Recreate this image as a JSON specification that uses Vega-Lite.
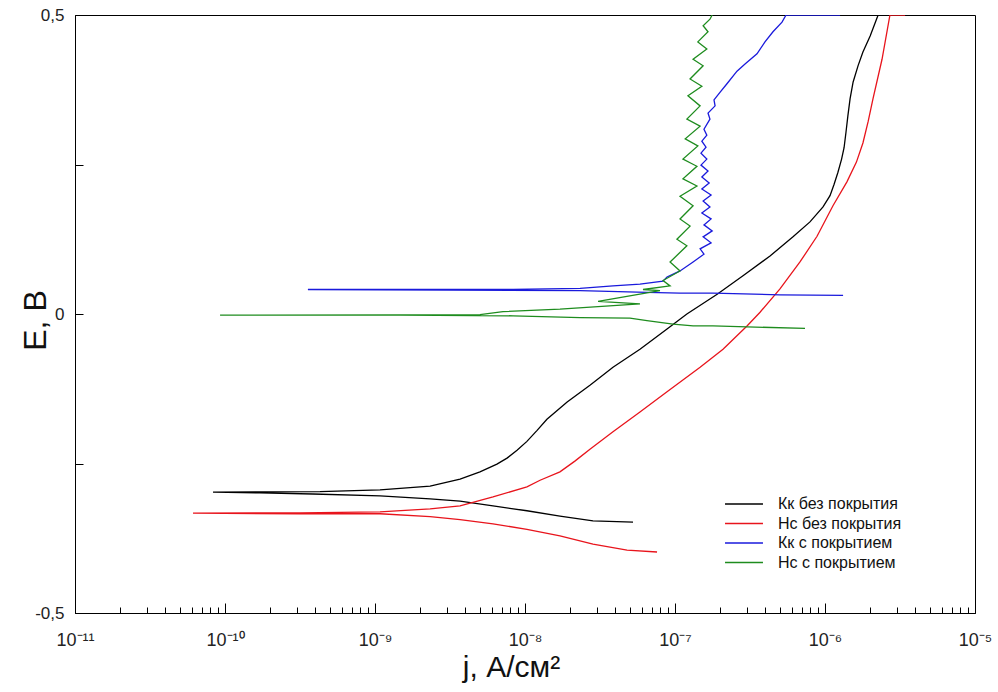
{
  "$schema": "https://vega.github.io/schema/vega-lite/v6.json",
  "width": 900,
  "height": 598,
  "autosize": {"type": "none"},
  "padding": {"left": 75, "top": 15, "right": 23, "bottom": 79},
  "background": "white",
  "config": {
    "font": "Liberation Sans",
    "view": {"stroke": "#000", "strokeWidth": 1},
    "axis": {"domainColor": "#000", "tickColor": "#000", "labelColor": "#222", "titleColor": "#111", "grid": false, "labelFont": "Liberation Sans", "titleFont": "Liberation Sans", "titleFontWeight": "normal"}
  },
  "datasets": {
    "curves": [
      {"s": "Кк без покрытия", "j": 5.25e-8, "E": -0.348},
      {"s": "Кк без покрытия", "j": 2.84e-8, "E": -0.346},
      {"s": "Кк без покрытия", "j": 1.71e-8, "E": -0.338},
      {"s": "Кк без покрытия", "j": 1.03e-8, "E": -0.329},
      {"s": "Кк без покрытия", "j": 6.12e-9, "E": -0.321},
      {"s": "Кк без покрытия", "j": 3.69e-9, "E": -0.313},
      {"s": "Кк без покрытия", "j": 2.33e-9, "E": -0.309},
      {"s": "Кк без покрытия", "j": 1.08e-9, "E": -0.304},
      {"s": "Кк без покрытия", "j": 3.86e-10, "E": -0.301},
      {"s": "Кк без покрытия", "j": 1.71e-10, "E": -0.299},
      {"s": "Кк без покрытия", "j": 8.32e-11, "E": -0.298},
      {"s": "Кк без покрытия", "j": 1.71e-10, "E": -0.2975},
      {"s": "Кк без покрытия", "j": 4.30e-10, "E": -0.297},
      {"s": "Кк без покрытия", "j": 1.08e-9, "E": -0.294},
      {"s": "Кк без покрытия", "j": 2.33e-9, "E": -0.288},
      {"s": "Кк без покрытия", "j": 3.69e-9, "E": -0.276},
      {"s": "Кк без покрытия", "j": 5.01e-9, "E": -0.264},
      {"s": "Кк без покрытия", "j": 6.50e-9, "E": -0.251},
      {"s": "Кк без покрытия", "j": 7.59e-9, "E": -0.241},
      {"s": "Кк без покрытия", "j": 8.85e-9, "E": -0.228},
      {"s": "Кк без покрытия", "j": 1.03e-8, "E": -0.213},
      {"s": "Кк без покрытия", "j": 1.20e-8, "E": -0.195},
      {"s": "Кк без покрытия", "j": 1.40e-8, "E": -0.176},
      {"s": "Кк без покрытия", "j": 1.91e-8, "E": -0.147},
      {"s": "Кк без покрытия", "j": 2.71e-8, "E": -0.119},
      {"s": "Кк без покрытия", "j": 3.86e-8, "E": -0.089},
      {"s": "Кк без покрытия", "j": 5.84e-8, "E": -0.059},
      {"s": "Кк без покрытия", "j": 8.85e-8, "E": -0.025},
      {"s": "Кк без покрытия", "j": 1.20e-7, "E": 0.000},
      {"s": "Кк без покрытия", "j": 1.91e-7, "E": 0.033},
      {"s": "Кк без покрытия", "j": 2.84e-7, "E": 0.064},
      {"s": "Кк без покрытия", "j": 4.30e-7, "E": 0.097},
      {"s": "Кк без покрытия", "j": 6.12e-7, "E": 0.129},
      {"s": "Кк без покрытия", "j": 7.94e-7, "E": 0.154},
      {"s": "Кк без покрытия", "j": 9.70e-7, "E": 0.179},
      {"s": "Кк без покрытия", "j": 1.08e-6, "E": 0.198},
      {"s": "Кк без покрытия", "j": 1.15e-6, "E": 0.217},
      {"s": "Кк без покрытия", "j": 1.22e-6, "E": 0.237},
      {"s": "Кк без покрытия", "j": 1.29e-6, "E": 0.259},
      {"s": "Кк без покрытия", "j": 1.34e-6, "E": 0.278},
      {"s": "Кк без покрытия", "j": 1.38e-6, "E": 0.304},
      {"s": "Кк без покрытия", "j": 1.42e-6, "E": 0.331},
      {"s": "Кк без покрытия", "j": 1.47e-6, "E": 0.360},
      {"s": "Кк без покрытия", "j": 1.54e-6, "E": 0.388},
      {"s": "Кк без покрытия", "j": 1.66e-6, "E": 0.415},
      {"s": "Кк без покрытия", "j": 1.79e-6, "E": 0.438},
      {"s": "Кк без покрытия", "j": 2.00e-6, "E": 0.465},
      {"s": "Кк без покрытия", "j": 2.26e-6, "E": 0.500},

      {"s": "Нс без покрытия", "j": 7.59e-8, "E": -0.398},
      {"s": "Нс без покрытия", "j": 4.79e-8, "E": -0.395},
      {"s": "Нс без покрытия", "j": 2.84e-8, "E": -0.385},
      {"s": "Нс без покрытия", "j": 1.71e-8, "E": -0.371},
      {"s": "Нс без покрытия", "j": 1.03e-8, "E": -0.360},
      {"s": "Нс без покрытия", "j": 6.12e-9, "E": -0.351},
      {"s": "Нс без покрытия", "j": 3.69e-9, "E": -0.344},
      {"s": "Нс без покрытия", "j": 2.33e-9, "E": -0.339},
      {"s": "Нс без покрытия", "j": 1.08e-9, "E": -0.334},
      {"s": "Нс без покрытия", "j": 3.16e-10, "E": -0.334},
      {"s": "Нс без покрытия", "j": 6.12e-11, "E": -0.333},
      {"s": "Нс без покрытия", "j": 3.16e-10, "E": -0.3325},
      {"s": "Нс без покрытия", "j": 1.08e-9, "E": -0.331},
      {"s": "Нс без покрытия", "j": 2.33e-9, "E": -0.326},
      {"s": "Нс без покрытия", "j": 3.69e-9, "E": -0.321},
      {"s": "Нс без покрытия", "j": 6.12e-9, "E": -0.306},
      {"s": "Нс без покрытия", "j": 1.03e-8, "E": -0.289},
      {"s": "Нс без покрытия", "j": 1.26e-8, "E": -0.278},
      {"s": "Нс без покрытия", "j": 1.71e-8, "E": -0.264},
      {"s": "Нс без покрытия", "j": 2.15e-8, "E": -0.246},
      {"s": "Нс без покрытия", "j": 2.71e-8, "E": -0.226},
      {"s": "Нс без покрытия", "j": 3.86e-8, "E": -0.197},
      {"s": "Нс без покрытия", "j": 5.84e-8, "E": -0.164},
      {"s": "Нс без покрытия", "j": 8.85e-8, "E": -0.130},
      {"s": "Нс без покрытия", "j": 1.47e-7, "E": -0.089},
      {"s": "Нс без покрытия", "j": 2.09e-7, "E": -0.059},
      {"s": "Нс без покрытия", "j": 3.02e-7, "E": -0.020},
      {"s": "Нс без покрытия", "j": 3.69e-7, "E": 0.003},
      {"s": "Нс без покрытия", "j": 5.01e-7, "E": 0.042},
      {"s": "Нс без покрытия", "j": 6.81e-7, "E": 0.087},
      {"s": "Нс без покрытия", "j": 8.85e-7, "E": 0.130},
      {"s": "Нс без покрытия", "j": 1.13e-6, "E": 0.181},
      {"s": "Нс без покрытия", "j": 1.40e-6, "E": 0.221},
      {"s": "Нс без покрытия", "j": 1.62e-6, "E": 0.254},
      {"s": "Нс без покрытия", "j": 1.79e-6, "E": 0.286},
      {"s": "Нс без покрытия", "j": 1.94e-6, "E": 0.322},
      {"s": "Нс без покрытия", "j": 2.09e-6, "E": 0.360},
      {"s": "Нс без покрытия", "j": 2.40e-6, "E": 0.426},
      {"s": "Нс без покрытия", "j": 2.71e-6, "E": 0.500},
      {"s": "Нс без покрытия", "j": 3.42e-6, "E": 0.500},

      {"s": "Кк с покрытием", "j": 1.32e-6, "E": 0.031},
      {"s": "Кк с покрытием", "j": 5.01e-7, "E": 0.032},
      {"s": "Кк с покрытием", "j": 1.79e-7, "E": 0.035},
      {"s": "Кк с покрытием", "j": 1.08e-7, "E": 0.035},
      {"s": "Кк с покрытием", "j": 6.50e-8, "E": 0.036},
      {"s": "Кк с покрытием", "j": 2.33e-8, "E": 0.039},
      {"s": "Кк с покрытием", "j": 3.16e-9, "E": 0.040},
      {"s": "Кк с покрытием", "j": 3.57e-10, "E": 0.041},
      {"s": "Кк с покрытием", "j": 3.16e-9, "E": 0.041},
      {"s": "Кк с покрытием", "j": 8.32e-9, "E": 0.041},
      {"s": "Кк с покрытием", "j": 2.33e-8, "E": 0.043},
      {"s": "Кк с покрытием", "j": 3.86e-8, "E": 0.047},
      {"s": "Кк с покрытием", "j": 5.84e-8, "E": 0.050},
      {"s": "Кк с покрытием", "j": 8.32e-8, "E": 0.055},
      {"s": "Кк с покрытием", "j": 8.85e-8, "E": 0.062},
      {"s": "Кк с покрытием", "j": 1.08e-7, "E": 0.072},
      {"s": "Кк с покрытием", "j": 1.32e-7, "E": 0.087},
      {"s": "Кк с покрытием", "j": 1.56e-7, "E": 0.100},
      {"s": "Кк с покрытием", "j": 1.47e-7, "E": 0.109},
      {"s": "Кк с покрытием", "j": 1.74e-7, "E": 0.119},
      {"s": "Кк с покрытием", "j": 1.54e-7, "E": 0.129},
      {"s": "Кк с покрытием", "j": 1.77e-7, "E": 0.139},
      {"s": "Кк с покрытием", "j": 1.56e-7, "E": 0.149},
      {"s": "Кк с покрытием", "j": 1.74e-7, "E": 0.159},
      {"s": "Кк с покрытием", "j": 1.51e-7, "E": 0.169},
      {"s": "Кк с покрытием", "j": 1.71e-7, "E": 0.179},
      {"s": "Кк с покрытием", "j": 1.54e-7, "E": 0.189},
      {"s": "Кк с покрытием", "j": 1.74e-7, "E": 0.199},
      {"s": "Кк с покрытием", "j": 1.51e-7, "E": 0.209},
      {"s": "Кк с покрытием", "j": 1.69e-7, "E": 0.219},
      {"s": "Кк с покрытием", "j": 1.51e-7, "E": 0.229},
      {"s": "Кк с покрытием", "j": 1.66e-7, "E": 0.239},
      {"s": "Кк с покрытием", "j": 1.49e-7, "E": 0.249},
      {"s": "Кк с покрытием", "j": 1.63e-7, "E": 0.259},
      {"s": "Кк с покрытием", "j": 1.49e-7, "E": 0.269},
      {"s": "Кк с покрытием", "j": 1.61e-7, "E": 0.279},
      {"s": "Кк с покрытием", "j": 1.51e-7, "E": 0.289},
      {"s": "Кк с покрытием", "j": 1.63e-7, "E": 0.299},
      {"s": "Кк с покрытием", "j": 1.56e-7, "E": 0.309},
      {"s": "Кк с покрытием", "j": 1.71e-7, "E": 0.326},
      {"s": "Кк с покрытием", "j": 1.66e-7, "E": 0.336},
      {"s": "Кк с покрытием", "j": 1.85e-7, "E": 0.348},
      {"s": "Кк с покрытием", "j": 1.82e-7, "E": 0.358},
      {"s": "Кк с покрытием", "j": 2.00e-7, "E": 0.371},
      {"s": "Кк с покрытием", "j": 2.22e-7, "E": 0.385},
      {"s": "Кк с покрытием", "j": 2.59e-7, "E": 0.406},
      {"s": "Кк с покрытием", "j": 2.93e-7, "E": 0.418},
      {"s": "Кк с покрытием", "j": 3.52e-7, "E": 0.435},
      {"s": "Кк с покрытием", "j": 3.98e-7, "E": 0.455},
      {"s": "Кк с покрытием", "j": 4.50e-7, "E": 0.472},
      {"s": "Кк с покрытием", "j": 5.17e-7, "E": 0.488},
      {"s": "Кк с покрытием", "j": 5.50e-7, "E": 0.500},
      {"s": "Кк с покрытием", "j": 1.26e-6, "E": 0.500},

      {"s": "Нс с покрытием", "j": 7.36e-7, "E": -0.024},
      {"s": "Нс с покрытием", "j": 1.79e-7, "E": -0.020},
      {"s": "Нс с покрытием", "j": 1.32e-7, "E": -0.020},
      {"s": "Нс с покрытием", "j": 9.70e-8, "E": -0.017},
      {"s": "Нс с покрытием", "j": 6.50e-8, "E": -0.011},
      {"s": "Нс с покрытием", "j": 5.01e-8, "E": -0.007},
      {"s": "Нс с покрытием", "j": 2.33e-8, "E": -0.006},
      {"s": "Нс с покрытием", "j": 8.32e-9, "E": -0.003},
      {"s": "Нс с покрытием", "j": 1.47e-9, "E": -0.002},
      {"s": "Нс с покрытием", "j": 9.27e-11, "E": -0.002},
      {"s": "Нс с покрытием", "j": 1.47e-9, "E": -0.0015},
      {"s": "Нс с покрытием", "j": 5.01e-9, "E": -0.001},
      {"s": "Нс с покрытием", "j": 7.13e-9, "E": 0.004},
      {"s": "Нс с покрытием", "j": 1.71e-8, "E": 0.008},
      {"s": "Нс с покрытием", "j": 5.84e-8, "E": 0.017},
      {"s": "Нс с покрытием", "j": 3.07e-8, "E": 0.021},
      {"s": "Нс с покрытием", "j": 7.94e-8, "E": 0.039},
      {"s": "Нс с покрытием", "j": 6.12e-8, "E": 0.041},
      {"s": "Нс с покрытием", "j": 9.27e-8, "E": 0.047},
      {"s": "Нс с покрытием", "j": 8.32e-8, "E": 0.056},
      {"s": "Нс с покрытием", "j": 1.08e-7, "E": 0.072},
      {"s": "Нс с покрытием", "j": 9.27e-8, "E": 0.087},
      {"s": "Нс с покрытием", "j": 1.20e-7, "E": 0.114},
      {"s": "Нс с покрытием", "j": 1.03e-7, "E": 0.125},
      {"s": "Нс с покрытием", "j": 1.26e-7, "E": 0.147},
      {"s": "Нс с покрытием", "j": 1.08e-7, "E": 0.159},
      {"s": "Нс с покрытием", "j": 1.32e-7, "E": 0.181},
      {"s": "Нс с покрытием", "j": 1.08e-7, "E": 0.197},
      {"s": "Нс с покрытием", "j": 1.40e-7, "E": 0.214},
      {"s": "Нс с покрытием", "j": 1.13e-7, "E": 0.226},
      {"s": "Нс с покрытием", "j": 1.40e-7, "E": 0.247},
      {"s": "Нс с покрытием", "j": 1.13e-7, "E": 0.259},
      {"s": "Нс с покрытием", "j": 1.42e-7, "E": 0.281},
      {"s": "Нс с покрытием", "j": 1.17e-7, "E": 0.293},
      {"s": "Нс с покрытием", "j": 1.47e-7, "E": 0.314},
      {"s": "Нс с покрытием", "j": 1.20e-7, "E": 0.326},
      {"s": "Нс с покрытием", "j": 1.47e-7, "E": 0.348},
      {"s": "Нс с покрытием", "j": 1.22e-7, "E": 0.365},
      {"s": "Нс с покрытием", "j": 1.51e-7, "E": 0.381},
      {"s": "Нс с покрытием", "j": 1.26e-7, "E": 0.393},
      {"s": "Нс с покрытием", "j": 1.54e-7, "E": 0.415},
      {"s": "Нс с покрытием", "j": 1.32e-7, "E": 0.426},
      {"s": "Нс с покрытием", "j": 1.63e-7, "E": 0.443},
      {"s": "Нс с покрытием", "j": 1.42e-7, "E": 0.455},
      {"s": "Нс с покрытием", "j": 1.66e-7, "E": 0.472},
      {"s": "Нс с покрытием", "j": 1.54e-7, "E": 0.482},
      {"s": "Нс с покрытием", "j": 1.71e-7, "E": 0.493},
      {"s": "Нс с покрытием", "j": 1.77e-7, "E": 0.500}
    ]
  },
  "layer": [
    {
      "mark": {"type": "rule", "color": "#000", "strokeWidth": 1.2},
      "encoding": {
        "y": {"datum": 0, "type": "quantitative", "scale": {"domain": [-0.5, 0.5]}}
      }
    },
    {
      "data": {"name": "curves"},
      "mark": {"type": "line", "strokeWidth": 1.3, "clip": true},
      "encoding": {
        "x": {
          "field": "j",
          "type": "quantitative",
          "scale": {"type": "log", "domain": [1e-11, 1e-5], "nice": false},
          "axis": {
            "title": "j, А/см²",
            "titleFontSize": 30,
            "titleX": 436,
            "titleY": 63,
            "titleBaseline": "alphabetic",
            "values": [1e-11, 2e-11, 3e-11, 4e-11, 5e-11, 6e-11, 7e-11, 8e-11, 9e-11,
                       1e-10, 2e-10, 3e-10, 4e-10, 5e-10, 6e-10, 7e-10, 8e-10, 9e-10,
                       1e-9, 2e-9, 3e-9, 4e-9, 5e-9, 6e-9, 7e-9, 8e-9, 9e-9,
                       1e-8, 2e-8, 3e-8, 4e-8, 5e-8, 6e-8, 7e-8, 8e-8, 9e-8,
                       1e-7, 2e-7, 3e-7, 4e-7, 5e-7, 6e-7, 7e-7, 8e-7, 9e-7,
                       1e-6, 2e-6, 3e-6, 4e-6, 5e-6, 6e-6, 7e-6, 8e-6, 9e-6, 1e-5],
            "labelExpr": "abs(log(datum.value)/LN10 - round(log(datum.value)/LN10)) > 0.001 ? '' : ({'-11':'10⁻¹¹','-10':'10⁻¹⁰','-9':'10⁻⁹','-8':'10⁻⁸','-7':'10⁻⁷','-6':'10⁻⁶','-5':'10⁻⁵'})[''+round(log(datum.value)/LN10)]",
            "labelFontSize": 18,
            "labelBaseline": "line-top",
            "labelLineHeight": 25,
            "labelPadding": 24,
            "labelFlush": false,
            "labelOverlap": false,
            "tickSize": {"condition": {"test": "abs(log(datum.value)/LN10 - round(log(datum.value)/LN10)) < 0.001", "value": -10}, "value": -6},
            "tickWidth": 1
          }
        },
        "y": {
          "field": "E",
          "type": "quantitative",
          "scale": {"domain": [-0.5, 0.5], "nice": false, "zero": false},
          "axis": {
            "title": "E, В",
            "titleFontSize": 32,
            "titleAngle": -90,
            "titleX": -30,
            "titleY": 305,
            "titleAlign": "center",
            "titleBaseline": "alphabetic",
            "values": [-0.5, -0.25, 0, 0.25, 0.5],
            "labelExpr": "datum.value == 0.5 ? '0,5' : datum.value == -0.5 ? '-0,5' : datum.value == 0 ? '0' : ''",
            "labelFontSize": 17,
            "labelPadding": 19,
            "labelFlush": false,
            "labelOverlap": false,
            "tickSize": -8
          }
        },
        "color": {
          "field": "s",
          "type": "nominal",
          "scale": {
            "domain": ["Кк без покрытия", "Нс без покрытия", "Кк с покрытием", "Нс с покрытием"],
            "range": ["#000000", "#e8141c", "#1a1adc", "#1e8c1e"]
          },
          "legend": {
            "title": null,
            "orient": "none",
            "legendX": 661,
            "legendY": 481,
            "padding": 0,
            "symbolType": "M-3,0H3",
            "symbolSize": 160,
            "symbolStrokeWidth": 1.5,
            "labelFontSize": 16,
            "labelFont": "Liberation Sans",
            "labelColor": "#111",
            "labelOffset": 26,
            "rowPadding": 3.5,
            "labelLimit": 300
          }
        },
        "order": {"value": null}
      }
    }
  ]
}
